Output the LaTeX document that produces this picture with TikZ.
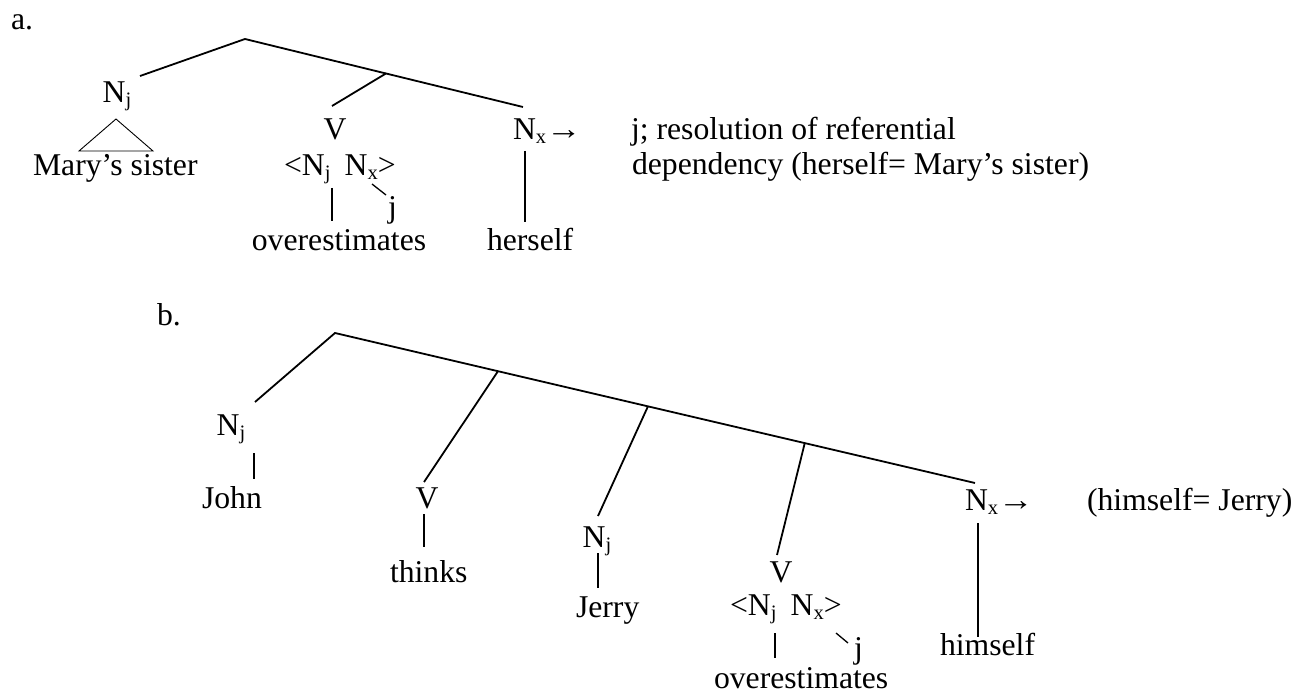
\documentclass[tikz,border=0pt]{standalone}
\usepackage{fontspec}
\setmainfont{Liberation Serif}
\usetikzlibrary{calc}
\newcommand\mysub[1]{\raisebox{-4pt}{\fontsize{20.5}{20.5}\selectfont #1}}
\newcommand\myarrow{\scalebox{1.12}[1]{→}}
\begin{document}
\begin{tikzpicture}[x=1pt,y=-1pt,
  every node/.style={inner sep=0pt, outer sep=0pt, font=\fontsize{31.7}{38}\selectfont},
  branch/.style={line width=1.8pt},
  stem/.style={line width=1.3pt},
  tri/.style={line width=0.9pt}]
\path[use as bounding box, fill=white] (0,0) rectangle (1295,695);

% ---------- part a ----------
\node[anchor=base west] (alab) at (11,30) {a.};
\coordinate (ra) at (245,39);
\coordinate (la) at (140,76);
\coordinate (ea) at (523,107);
\coordinate (ja) at ($(ra)!0.507!(ea)$);
\coordinate (va) at (332,106);
\draw[branch] (la) -- (ra) -- (ea);
\draw[branch] (ja) -- (va);

\node[anchor=base] (nja) at (117,103) {N\mysub{j}};
\coordinate (tapex) at (116,119);
\coordinate (tl) at (79,151);
\coordinate (tr) at (153,151);
\draw[tri] (tl) -- (tapex) -- (tr) -- cycle;
\node[anchor=base west] (mary) at (33,176) {Mary’s sister};

\node[anchor=base] (vA) at (335,140) {V};
\node[anchor=base west] (argsa) at (284,176) {<N\mysub{j}\hspace{0.45em}N\mysub{x}>};
\coordinate (sa1) at (332,188);
\coordinate (sa2) at (332,221);
\draw[stem] (sa1) -- (sa2);
\coordinate (da1) at (372,184);
\coordinate (da2) at (386,195);
\draw[stem] (da1) -- (da2);
\node[anchor=base west] (jA) at (388,217) {j};
\node[anchor=base] (overA) at (339,250) {overestimates};

\node[anchor=base west] (nxa) at (513,140) {N\mysub{x}\myarrow};
\coordinate (sb1) at (525,151);
\coordinate (sb2) at (525,222);
\draw[stem] (sb1) -- (sb2);
\node[anchor=base west] (herself) at (487,250) {herself};

\node[anchor=base west] (resA) at (631,140) {j; resolution of referential};
\node[anchor=base west] (resB) at (632,175) {dependency (herself= Mary’s sister)};

% ---------- part b ----------
\node[anchor=base west] (blab) at (157,325) {b.};
\coordinate (rb) at (335,333);
\coordinate (lb) at (255,402);
\coordinate (eb) at (975,483);
\coordinate (j1) at ($(rb)!0.2547!(eb)$);
\coordinate (j2) at ($(rb)!0.489!(eb)$);
\coordinate (j3) at ($(rb)!0.734!(eb)$);
\coordinate (e1) at (424,482);
\coordinate (e2) at (598,516);
\coordinate (e3) at (777,555);
\draw[branch] (lb) -- (rb) -- (eb);
\draw[branch] (j1) -- (e1);
\draw[branch] (j2) -- (e2);
\draw[branch] (j3) -- (e3);

\node[anchor=base] (njohn) at (231,435) {N\mysub{j}};
\coordinate (s1a) at (254,453);
\coordinate (s1b) at (254,479);
\draw[stem] (s1a) -- (s1b);
\node[anchor=base west] (john) at (202,508) {John};

\node[anchor=base] (vthinks) at (427,508) {V};
\coordinate (s2a) at (424,514);
\coordinate (s2b) at (424,547);
\draw[stem] (s2a) -- (s2b);
\node[anchor=base west] (thinks) at (390,582) {thinks};

\node[anchor=base] (njerry) at (597,547) {N\mysub{j}};
\coordinate (s3a) at (598,553);
\coordinate (s3b) at (598,588);
\draw[stem] (s3a) -- (s3b);
\node[anchor=base west] (jerry) at (576,617) {Jerry};

\node[anchor=base] (vB) at (781,582) {V};
\node[anchor=base west] (argsb) at (730,615) {<N\mysub{j}\hspace{0.45em}N\mysub{x}>};
\coordinate (s4a) at (775,633);
\coordinate (s4b) at (775,658);
\draw[stem] (s4a) -- (s4b);
\coordinate (d4a) at (836,633);
\coordinate (d4b) at (848,643);
\draw[stem] (d4a) -- (d4b);
\node[anchor=base west] (jB) at (854,658) {j};
\node[anchor=base west] (overB) at (714,688) {overestimates};

\node[anchor=base west] (nxb) at (965,510) {N\mysub{x}\myarrow};
\coordinate (s5a) at (978,523);
\coordinate (s5b) at (978,637);
\draw[stem] (s5a) -- (s5b);
\node[anchor=base west] (himself) at (940,655) {himself};
\node[anchor=base west] (resC) at (1087,510) {(himself= Jerry)};
\end{tikzpicture}
\end{document}
